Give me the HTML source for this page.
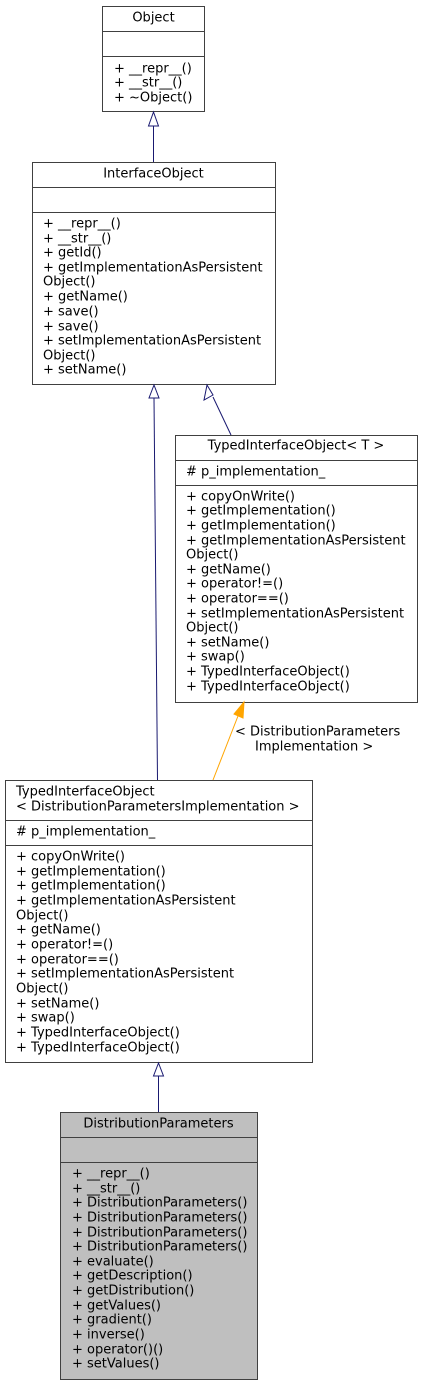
<!DOCTYPE html>
<html><head><style>body{margin:0;background:#fff}svg{display:block}text{font-family:"DejaVu Sans","Liberation Sans",sans-serif;font-size:13px}</style></head><body>
<svg width="423" height="1385" xmlns="http://www.w3.org/2000/svg" fill="#000">
<g stroke="#404040" stroke-width="1" fill="#fff">
<rect x="102.5" y="6.5" width="102" height="105"/>
<line x1="102.5" y1="31.5" x2="204.5" y2="31.5"/><line x1="102.5" y1="56.5" x2="204.5" y2="56.5"/>
<rect x="32.5" y="162.5" width="243" height="222"/>
<line x1="32.5" y1="187.5" x2="275.5" y2="187.5"/><line x1="32.5" y1="212.5" x2="275.5" y2="212.5"/>
<rect x="175.5" y="435.5" width="242" height="267"/>
<line x1="175.5" y1="460.5" x2="417.5" y2="460.5"/><line x1="175.5" y1="485.5" x2="417.5" y2="485.5"/>
<rect x="5.5" y="780.5" width="307" height="282"/>
<line x1="5.5" y1="820.5" x2="312.5" y2="820.5"/><line x1="5.5" y1="845.5" x2="312.5" y2="845.5"/>
<rect x="60.5" y="1112.5" width="197" height="267" fill="#bfbfbf"/>
<line x1="60.5" y1="1137.5" x2="257.5" y2="1137.5"/><line x1="60.5" y1="1162.5" x2="257.5" y2="1162.5"/>
</g>
<g stroke="#191970" fill="none">
<line x1="153.5" y1="126" x2="153.5" y2="162"/>
<polygon points="153.5,112 148.5,126 158.5,126" fill="#fff"/>
<line x1="154" y1="398" x2="157.5" y2="780"/>
<polygon points="154,385 149,398 159,398" fill="#fff"/>
<line x1="213" y1="397" x2="231" y2="435"/>
<polygon points="207,385 204,400 213,395" fill="#fff"/>
<line x1="158.5" y1="1076" x2="158.5" y2="1112"/>
<polygon points="158.5,1063 153.5,1076 163.5,1076" fill="#fff"/>
</g>
<line x1="238" y1="716" x2="213" y2="780" stroke="orange"/>
<polygon points="244,702 234,714 243,718" fill="orange" stroke="orange"/>
<g dominant-baseline="central">
<text x="153.5" y="18" text-anchor="middle">Object</text>
<text x="114" y="69">+ __repr__()</text><text x="114" y="83">+ __str__()</text><text x="114" y="98">+ ~Object()</text>
<text x="153.5" y="174" text-anchor="middle">InterfaceObject</text>
<text x="43" y="224">+ __repr__()</text><text x="43" y="239">+ __str__()</text><text x="43" y="253">+ getId()</text><text x="43" y="268">+ getImplementationAsPersistent</text><text x="43" y="282">Object()</text><text x="43" y="297">+ getName()</text><text x="43" y="312">+ save()</text><text x="43" y="327">+ save()</text><text x="43" y="341">+ setImplementationAsPersistent</text><text x="43" y="356">Object()</text><text x="43" y="370">+ setName()</text>
<text x="296" y="446" text-anchor="middle">TypedInterfaceObject&lt; T &gt;</text>
<text x="186" y="472"># p_implementation_</text>
<text x="186" y="497">+ copyOnWrite()</text><text x="186" y="511">+ getImplementation()</text><text x="186" y="526">+ getImplementation()</text><text x="186" y="541">+ getImplementationAsPersistent</text><text x="186" y="555">Object()</text><text x="186" y="570">+ getName()</text><text x="186" y="584">+ operator!=()</text><text x="186" y="599">+ operator==()</text><text x="186" y="614">+ setImplementationAsPersistent</text><text x="186" y="628">Object()</text><text x="186" y="643">+ setName()</text><text x="186" y="657">+ swap()</text><text x="186" y="672">+ TypedInterfaceObject()</text><text x="186" y="687">+ TypedInterfaceObject()</text>
<text x="235" y="732">&lt; DistributionParameters</text><text x="255" y="747">Implementation &gt;</text>
<text x="16" y="792">TypedInterfaceObject</text><text x="16" y="807">&lt; DistributionParametersImplementation &gt;</text>
<text x="16" y="832"># p_implementation_</text>
<text x="16" y="857">+ copyOnWrite()</text><text x="16" y="872">+ getImplementation()</text><text x="16" y="886">+ getImplementation()</text><text x="16" y="901">+ getImplementationAsPersistent</text><text x="16" y="916">Object()</text><text x="16" y="930">+ getName()</text><text x="16" y="945">+ operator!=()</text><text x="16" y="960">+ operator==()</text><text x="16" y="974">+ setImplementationAsPersistent</text><text x="16" y="989">Object()</text><text x="16" y="1004">+ setName()</text><text x="16" y="1018">+ swap()</text><text x="16" y="1033">+ TypedInterfaceObject()</text><text x="16" y="1048">+ TypedInterfaceObject()</text>
<text x="158.5" y="1124" text-anchor="middle">DistributionParameters</text>
<text x="72" y="1174">+ __repr__()</text><text x="72" y="1189">+ __str__()</text><text x="72" y="1203">+ DistributionParameters()</text><text x="72" y="1218">+ DistributionParameters()</text><text x="72" y="1233">+ DistributionParameters()</text><text x="72" y="1247">+ DistributionParameters()</text><text x="72" y="1262">+ evaluate()</text><text x="72" y="1276">+ getDescription()</text><text x="72" y="1291">+ getDistribution()</text><text x="72" y="1306">+ getValues()</text><text x="72" y="1320">+ gradient()</text><text x="72" y="1335">+ inverse()</text><text x="72" y="1350">+ operator()()</text><text x="72" y="1364">+ setValues()</text>
</g>
</svg>
</body></html>
